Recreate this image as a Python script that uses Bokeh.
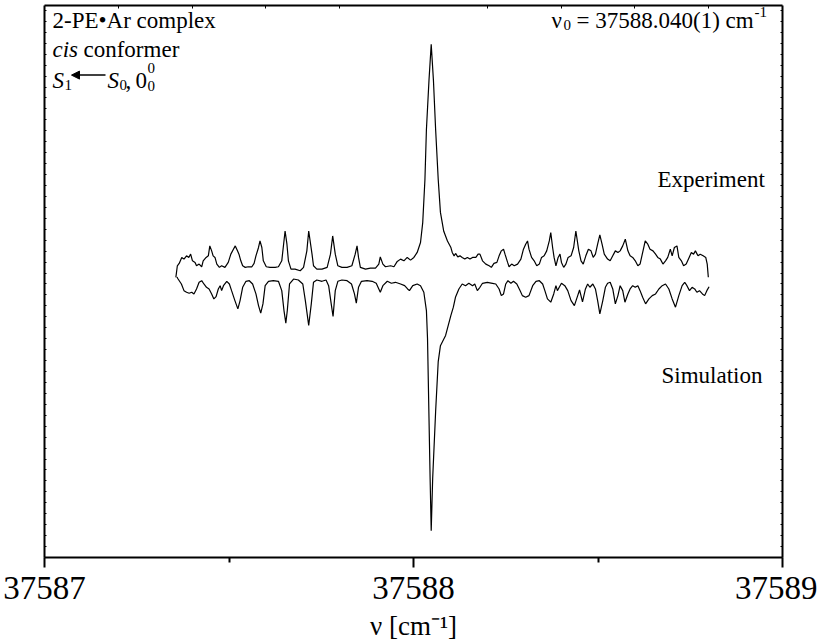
from bokeh.plotting import figure
from bokeh.models import Range1d, LinearAxis, FixedTicker, Label, Arrow, NormalHead
from bokeh.embed import file_html
from bokeh.resources import INLINE

# Wavenumber axis (cm^-1) and signal axis (arb. units)
NU_MIN, NU_MAX = 37587.0, 37589.0
SIG_MIN, SIG_MAX = 0.0, 555.0

x_ticks = [37587, 37588, 37589]
x_minor = [37587.5, 37588.5]
x_tick_labels = ["37587", "37588", "37589"]

# Experimental LIF trace
exp_nu = [
    37587.356, 37587.360, 37587.365, 37587.372, 37587.378, 37587.385, 37587.391, 37587.396, 37587.401, 37587.408,
    37587.412, 37587.419, 37587.426, 37587.430, 37587.438, 37587.444, 37587.448, 37587.453, 37587.457, 37587.462,
    37587.467, 37587.474, 37587.480, 37587.489, 37587.498, 37587.505, 37587.512, 37587.517, 37587.523, 37587.527,
    37587.532, 37587.537, 37587.544, 37587.552, 37587.562, 37587.568, 37587.573, 37587.580, 37587.584, 37587.589,
    37587.593, 37587.601, 37587.611, 37587.625, 37587.634, 37587.643, 37587.648, 37587.652, 37587.657, 37587.661,
    37587.668, 37587.679, 37587.693, 37587.702, 37587.711, 37587.716, 37587.725, 37587.729, 37587.738, 37587.752,
    37587.766, 37587.775, 37587.781, 37587.788, 37587.795, 37587.806, 37587.820, 37587.833, 37587.842, 37587.847,
    37587.851, 37587.856, 37587.870, 37587.883, 37587.897, 37587.906, 37587.910, 37587.917, 37587.924, 37587.938,
    37587.947, 37587.956, 37587.965, 37587.974, 37587.983, 37587.992, 37588.001, 37588.010, 37588.019, 37588.025,
    37588.031, 37588.035, 37588.042, 37588.048, 37588.054, 37588.060, 37588.067, 37588.073, 37588.082, 37588.092,
    37588.101, 37588.105, 37588.110, 37588.114, 37588.120, 37588.126, 37588.132, 37588.139, 37588.146, 37588.153,
    37588.160, 37588.169, 37588.175, 37588.180, 37588.187, 37588.196, 37588.205, 37588.211, 37588.218, 37588.226,
    37588.232, 37588.238, 37588.244, 37588.248, 37588.255, 37588.259, 37588.266, 37588.273, 37588.282, 37588.291,
    37588.298, 37588.304, 37588.309, 37588.313, 37588.320, 37588.327, 37588.334, 37588.341, 37588.347, 37588.354,
    37588.361, 37588.368, 37588.372, 37588.377, 37588.381, 37588.386, 37588.392, 37588.397, 37588.401, 37588.407,
    37588.413, 37588.419, 37588.427, 37588.434, 37588.440, 37588.448, 37588.454, 37588.460, 37588.467, 37588.474,
    37588.481, 37588.487, 37588.493, 37588.499, 37588.505, 37588.511, 37588.517, 37588.526, 37588.533, 37588.540,
    37588.547, 37588.554, 37588.560, 37588.567, 37588.574, 37588.581, 37588.587, 37588.594, 37588.601, 37588.608,
    37588.614, 37588.622, 37588.628, 37588.635, 37588.641, 37588.649, 37588.656, 37588.662, 37588.669, 37588.676,
    37588.683, 37588.689, 37588.696, 37588.701, 37588.707, 37588.714, 37588.719, 37588.726, 37588.732, 37588.739,
    37588.747, 37588.753, 37588.759, 37588.764, 37588.771, 37588.777, 37588.785, 37588.792, 37588.796, 37588.799,
]
exp_sig = [
    281.7, 293.3, 295.7, 301.7, 300.0, 303.3, 301.7, 305.0, 298.3, 296.7,
    293.3, 295.0, 292.3, 298.3, 301.7, 303.3, 313.3, 308.3, 303.3, 301.7,
    295.0, 291.7, 293.3, 291.7, 296.7, 305.0, 310.0, 313.3, 308.3, 305.0,
    298.3, 293.3, 291.7, 292.3, 292.3, 295.7, 303.3, 311.7, 318.3, 311.7,
    298.3, 292.3, 291.7, 291.7, 292.3, 298.3, 315.0, 328.3, 315.0, 298.3,
    290.0, 290.0, 288.3, 291.7, 308.3, 328.3, 305.0, 293.3, 290.0, 290.0,
    291.7, 305.0, 323.3, 305.0, 293.3, 291.7, 291.7, 293.3, 305.0, 313.3,
    301.7, 291.7, 290.0, 291.0, 291.0, 295.0, 302.3, 295.0, 292.3, 293.3,
    292.3, 297.7, 300.0, 298.3, 301.7, 299.0, 301.7, 306.7, 316.7, 336.7,
    380.0, 430.0, 480.0, 516.0, 480.0, 430.0, 380.0, 347.0, 328.0, 318.3,
    312.0, 306.7, 303.3, 305.7, 302.3, 303.3, 301.7, 300.0, 301.7, 300.0,
    301.7, 301.7, 305.0, 305.0, 298.3, 295.0, 293.3, 291.7, 295.7, 296.7,
    303.3, 308.3, 310.0, 305.0, 296.7, 292.3, 295.0, 293.3, 295.0, 300.0,
    310.0, 315.0, 318.3, 310.0, 301.7, 298.3, 293.3, 295.0, 301.7, 303.3,
    308.3, 318.3, 326.7, 311.7, 301.7, 293.3, 301.7, 305.0, 296.7, 291.7,
    295.0, 301.7, 303.3, 311.7, 328.3, 308.3, 298.3, 295.0, 303.3, 310.0,
    308.3, 301.7, 305.0, 315.0, 324.3, 315.0, 305.0, 300.0, 298.3, 303.3,
    308.3, 306.7, 308.3, 313.3, 320.0, 308.3, 303.3, 301.7, 298.3, 293.3,
    295.0, 308.3, 318.3, 315.0, 310.0, 308.3, 305.0, 301.7, 300.0, 295.0,
    298.3, 301.7, 310.0, 303.3, 311.7, 313.3, 301.7, 298.3, 293.3, 295.0,
    301.7, 306.7, 305.0, 308.3, 303.3, 305.0, 303.3, 301.7, 295.0, 281.7,
]

# Simulated rotational contour, drawn inverted below the experiment
sim_nu = [
    37587.359, 37587.362, 37587.371, 37587.378, 37587.385, 37587.392, 37587.399, 37587.405, 37587.412, 37587.419,
    37587.426, 37587.432, 37587.439, 37587.446, 37587.453, 37587.459, 37587.465, 37587.471, 37587.476, 37587.480,
    37587.485, 37587.494, 37587.501, 37587.507, 37587.516, 37587.524, 37587.530, 37587.537, 37587.546, 37587.555,
    37587.564, 37587.573, 37587.580, 37587.586, 37587.592, 37587.598, 37587.607, 37587.620, 37587.634, 37587.643,
    37587.649, 37587.654, 37587.658, 37587.664, 37587.675, 37587.688, 37587.700, 37587.707, 37587.716, 37587.723,
    37587.729, 37587.738, 37587.752, 37587.763, 37587.770, 37587.777, 37587.782, 37587.788, 37587.795, 37587.806,
    37587.820, 37587.832, 37587.840, 37587.845, 37587.851, 37587.859, 37587.874, 37587.888, 37587.899, 37587.906,
    37587.910, 37587.917, 37587.929, 37587.940, 37587.951, 37587.965, 37587.976, 37587.984, 37587.989, 37587.998,
    37588.010, 37588.019, 37588.028, 37588.035, 37588.038, 37588.042, 37588.045, 37588.048, 37588.052, 37588.060,
    37588.067, 37588.073, 37588.087, 37588.101, 37588.108, 37588.114, 37588.123, 37588.132, 37588.141, 37588.150,
    37588.160, 37588.166, 37588.173, 37588.180, 37588.187, 37588.200, 37588.214, 37588.223, 37588.232, 37588.238,
    37588.244, 37588.250, 37588.256, 37588.264, 37588.271, 37588.280, 37588.289, 37588.295, 37588.304, 37588.313,
    37588.323, 37588.332, 37588.341, 37588.350, 37588.356, 37588.363, 37588.372, 37588.380, 37588.386, 37588.390,
    37588.395, 37588.401, 37588.410, 37588.418, 37588.427, 37588.436, 37588.445, 37588.450, 37588.458, 37588.466,
    37588.472, 37588.478, 37588.486, 37588.493, 37588.499, 37588.505, 37588.513, 37588.520, 37588.526, 37588.533,
    37588.540, 37588.547, 37588.554, 37588.560, 37588.567, 37588.573, 37588.581, 37588.587, 37588.594, 37588.601,
    37588.608, 37588.614, 37588.621, 37588.629, 37588.638, 37588.647, 37588.656, 37588.665, 37588.674, 37588.683,
    37588.692, 37588.701, 37588.710, 37588.719, 37588.728, 37588.735, 37588.741, 37588.748, 37588.755, 37588.762,
    37588.768, 37588.775, 37588.783, 37588.789, 37588.795, 37588.801,
]
sim_sig = [
    282.0, 280.0, 275.0, 268.3, 266.7, 265.7, 266.7, 265.0, 270.0, 276.7,
    278.3, 275.0, 271.7, 270.0, 265.0, 260.0, 262.3, 270.0, 273.3, 268.3,
    273.3, 277.7, 275.0, 268.3, 258.3, 250.0, 258.3, 271.7, 277.7, 278.3,
    275.0, 265.0, 253.3, 245.7, 255.0, 273.3, 277.7, 278.3, 277.7, 268.3,
    248.3, 235.7, 248.3, 275.0, 280.0, 279.0, 275.0, 258.0, 233.3, 255.0,
    276.7, 279.0, 277.7, 279.0, 273.3, 255.0, 242.3, 268.3, 277.7, 279.0,
    278.3, 275.0, 265.0, 255.7, 271.7, 277.7, 278.3, 277.7, 275.7, 270.0,
    266.7, 273.3, 277.7, 275.7, 276.7, 275.0, 273.3, 270.0, 268.3, 273.3,
    275.0, 273.3, 266.7, 248.3, 220.0, 140.0, 80.0, 27.0, 80.0, 147.0,
    197.0, 213.0, 223.3, 243.0, 251.7, 262.0, 270.0, 275.0, 273.3, 275.7,
    273.3, 275.0, 268.3, 271.7, 275.7, 276.7, 275.7, 275.0, 270.0, 263.3,
    265.0, 275.0, 278.3, 275.7, 277.7, 275.0, 268.3, 263.3, 261.7, 263.3,
    273.3, 277.7, 278.3, 275.0, 268.3, 260.0, 256.7, 265.0, 273.3, 268.3,
    271.7, 275.7, 273.3, 268.3, 258.3, 253.3, 263.3, 269.0, 257.0, 270.0,
    275.0, 271.7, 275.0, 270.0, 258.3, 245.0, 258.3, 271.7, 275.7, 276.7,
    270.0, 255.0, 263.3, 273.3, 268.3, 256.7, 265.0, 270.0, 273.3, 271.7,
    273.3, 268.3, 261.7, 255.0, 260.0, 263.3, 265.0, 270.0, 273.3, 275.0,
    270.0, 260.0, 251.7, 263.3, 273.3, 276.7, 273.3, 268.3, 271.7, 270.0,
    266.7, 268.3, 265.0, 263.3, 268.3, 272.3,
]

W, H = 817, 643
BL, BR, BT, BB = 44, 35, 5, 83
FW = W - BL - BR
FH = H - BT - BB
SERIF = "Liberation Serif"


def dx(px):
    """Horizontal pixel position inside the canvas -> wavenumber."""
    return NU_MIN + (px - BL) * (NU_MAX - NU_MIN) / FW


def dy(py):
    """Vertical pixel position (from top of canvas) -> signal units."""
    return SIG_MIN + (BT + FH - py) * (SIG_MAX - SIG_MIN) / FH


p = figure(width=W, height=H,
           x_range=Range1d(NU_MIN, NU_MAX), y_range=Range1d(SIG_MIN, SIG_MAX),
           x_axis_location=None, y_axis_location=None,
           output_backend="svg", toolbar_location=None,
           min_border_left=BL, min_border_right=BR,
           min_border_top=BT, min_border_bottom=BB)
p.grid.visible = False
p.outline_line_color = None
p.background_fill_color = "white"
p.border_fill_color = "white"

# bottom axis with labelled wavenumbers and the axis title
bottom = LinearAxis(ticker=FixedTicker(ticks=x_ticks, minor_ticks=x_minor),
                    major_label_overrides={t: s for t, s in zip(x_ticks, x_tick_labels)},
                    axis_line_width=2, axis_line_color="black",
                    major_tick_in=0, major_tick_out=10, major_tick_line_width=2,
                    minor_tick_in=0, minor_tick_out=5, minor_tick_line_width=2,
                    major_label_standoff=9,
                    major_label_text_font=SERIF, major_label_text_font_size="33px",
                    major_label_text_color="black",
                    axis_label="\u03bd [cm\u207b\u00b9]",
                    axis_label_text_font=SERIF, axis_label_text_font_size="27px",
                    axis_label_text_font_style="normal", axis_label_text_color="black",
                    axis_label_standoff=9)
p.add_layout(bottom, "below")

# frame sides: unlabelled axes with small inward ticks
top_minor = [37587.2, 37587.4, 37587.6, 37587.8, 37588.2, 37588.4, 37588.6, 37588.8]
top = LinearAxis(ticker=FixedTicker(ticks=[], minor_ticks=top_minor),
                 axis_line_width=2, axis_line_color="black",
                 minor_tick_in=3, minor_tick_out=0, major_tick_in=0, major_tick_out=0,
                 major_label_text_font_size="0px")
p.add_layout(top, "above")

side_minor = list(range(0, 556, 11))
for loc in ("left", "right"):
    ax = LinearAxis(ticker=FixedTicker(ticks=[], minor_ticks=side_minor),
                    axis_line_width=2, axis_line_color="black",
                    minor_tick_in=2, minor_tick_out=0, major_tick_in=0, major_tick_out=0,
                    major_label_text_font_size="0px")
    p.add_layout(ax, loc)

# spectra
p.line(exp_nu, exp_sig, line_color="black", line_width=1.2)
p.line(sim_nu, sim_sig, line_color="black", line_width=1.2)


def put(text, px, py, size, italic=False, align="left"):
    p.add_layout(Label(x=dx(px), y=dy(py), text=text,
                       text_font=SERIF, text_font_size=f"{size}px",
                       text_font_style="italic" if italic else "normal",
                       text_align=align, text_baseline="alphabetic",
                       text_color="black"))


FS = 23
SUB = 15

# sample description, upper left
put("2-PE\u2022Ar complex", 52, 20, FS)
put("cis", 52, 49, FS, italic=True)
put("conformer", 83, 49, FS)
put("S", 52, 80, FS, italic=True)
put("1", 64, 85, SUB)
p.add_layout(Arrow(end=NormalHead(size=8, line_color="black", fill_color="black"),
                   x_start=dx(105), y_start=dy(75), x_end=dx(71), y_end=dy(75),
                   line_color="black", line_width=1.5))
put("S", 107, 80, FS, italic=True)
put("0", 119, 85, SUB)
put(",", 125, 80, FS)
put("0", 135, 80, FS)
put("0", 147, 68, SUB)
put("0", 147, 86, SUB)

# band origin, upper right
put("\u03bd", 551, 20, FS)
put("0", 563, 25, SUB)
put("= 37588.040(1) cm", 576, 20, FS)
put("-1", 754, 12, SUB)

# trace names
put("Experiment", 657, 180, FS)
put("Simulation", 661, 377, FS)

open("out.html", "w").write(file_html(p, INLINE))
